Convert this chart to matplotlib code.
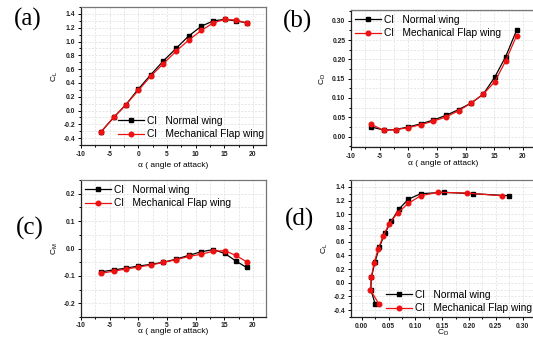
import matplotlib
matplotlib.use("Agg")
import matplotlib.pyplot as plt
from matplotlib.ticker import MultipleLocator, FormatStrFormatter

plt.rcParams['font.family'] = ['Liberation Sans', 'DejaVu Sans']
plt.rcParams['mathtext.fontset'] = 'custom'
plt.rcParams['mathtext.rm'] = 'Liberation Sans'
plt.rcParams['mathtext.it'] = 'Liberation Sans'

# ---- data ----
alpha = [-6.5, -4.3, -2.2, 0.0, 2.2, 4.4, 6.6, 8.8, 11.0, 13.1, 15.1, 17.0, 18.9]

cl_normal = [-0.31, -0.10, 0.08, 0.31, 0.52, 0.72, 0.90, 1.08, 1.22, 1.30, 1.32, 1.30, 1.27]
cl_flap = [-0.31, -0.10, 0.08, 0.29, 0.50, 0.68, 0.86, 1.02, 1.16, 1.27, 1.32, 1.31, 1.27]

cd_normal = [0.025, 0.017, 0.018, 0.025, 0.033, 0.043, 0.055, 0.070, 0.087, 0.110, 0.154, 0.207, 0.275]
cd_flap = [0.032, 0.016, 0.018, 0.023, 0.031, 0.040, 0.051, 0.067, 0.087, 0.110, 0.142, 0.196, 0.261]

cm_normal = [-0.085, -0.078, -0.072, -0.064, -0.058, -0.050, -0.039, -0.025, -0.012, -0.004, -0.018, -0.045, -0.069]
cm_flap = [-0.090, -0.083, -0.075, -0.068, -0.060, -0.051, -0.041, -0.029, -0.021, -0.010, -0.008, -0.025, -0.048]

legend_labels = ["Cl   Normal wing", "Cl   Mechanical Flap wing"]
panel_labels = ["(a)", "(b)", "(c)", "(d)"]
xlabel_alpha = "\u03b1 ( angle of attack)"

W, H = 533, 337
fig = plt.figure(figsize=(W / 100, H / 100), dpi=100)


def make_ax(left, top, right, bottom):
    return fig.add_axes([left / W, 1 - bottom / H, (right - left) / W, (bottom - top) / H])


def style(ax, xmaj, xmin, ymaj, ymin, xfmt, yfmt):
    ax.xaxis.set_major_locator(MultipleLocator(xmaj))
    ax.xaxis.set_minor_locator(MultipleLocator(xmin))
    ax.yaxis.set_major_locator(MultipleLocator(ymaj))
    ax.yaxis.set_minor_locator(MultipleLocator(ymin))
    ax.xaxis.set_major_formatter(FormatStrFormatter(xfmt))
    ax.yaxis.set_major_formatter(FormatStrFormatter(yfmt))
    ax.grid(True, which='both', color='#dddddd', linestyle=(0, (3, 2)), linewidth=0.5)
    ax.set_axisbelow(True)
    ax.tick_params(which='both', direction='out', top=False, right=False, pad=1.5,
                   width=0.7, labelsize=4.9, labelcolor='#222222')
    ax.tick_params(which='major', length=2.5)
    ax.tick_params(which='minor', length=1.5)
    for lab in ax.get_xticklabels() + ax.get_yticklabels():
        lab.set_fontweight('bold')
    for s in ['left', 'bottom']:
        ax.spines[s].set_color('#222222')
        ax.spines[s].set_linewidth(0.9)
    for s in ['top', 'right']:
        ax.spines[s].set_color('#777777')
        ax.spines[s].set_linewidth(0.9)


def plot_pair(ax, x1, y1, x2, y2):
    ax.plot(x1, y1, color='black', marker='s', markersize=3.2, linewidth=0.9, label=legend_labels[0])
    ax.plot(x2, y2, color='#ee1111', marker='o', markersize=3.3, linewidth=0.9, label=legend_labels[1])


def add_legend(ax, x, y):
    ax.legend(loc='upper left', bbox_to_anchor=(x / W, 1 - y / H), bbox_transform=fig.transFigure,
              frameon=False, borderpad=0, borderaxespad=0, fontsize=7.4, handlelength=2.5,
              handletextpad=0.3, labelspacing=0.32)


# (a) CL vs alpha
axa = make_ax(81, 7, 266, 145)
plot_pair(axa, alpha, cl_normal, alpha, cl_flap)
axa.set_xlim(-10, 22.3)
axa.set_ylim(-0.5, 1.5)
style(axa, 5, 2.5, 0.2, 0.1, '%d', '%.1f')
axa.set_xlabel(xlabel_alpha, fontsize=6, labelpad=3)
axa.set_ylabel(r'$\mathrm{C_L}$', fontsize=6, labelpad=3)
add_legend(axa, 118, 116)

# (b) CD vs alpha
axb = make_ax(351, 10, 536, 147)
plot_pair(axb, alpha, cd_normal, alpha, cd_flap)
axb.set_xlim(-10, 22.3)
axb.set_ylim(-0.027, 0.328)
style(axb, 5, 2.5, 0.05, 0.025, '%d', '%.2f')
axb.set_xlabel(xlabel_alpha, fontsize=6, labelpad=0)
axb.set_ylabel(r'$\mathrm{C_D}$', fontsize=6, labelpad=3)
add_legend(axb, 355, 15)

# (c) CM vs alpha
axc = make_ax(81, 180, 266, 317)
plot_pair(axc, alpha, cm_normal, alpha, cm_flap)
axc.set_xlim(-10, 22.3)
axc.set_ylim(-0.25, 0.25)
style(axc, 5, 2.5, 0.1, 0.05, '%d', '%.1f')
axc.tick_params(axis='x', which='both', pad=1)
axc.set_xlabel(xlabel_alpha, fontsize=6, labelpad=-0.3)
axc.set_ylabel(r'$\mathrm{C_M}$', fontsize=6, labelpad=3)
add_legend(axc, 85, 185)

# (d) CL vs CD
axd = make_ax(351, 180, 536, 317)
plot_pair(axd, cd_normal, cl_normal, cd_flap, cl_flap)
axd.set_xlim(-0.02, 0.325)
axd.set_ylim(-0.5, 1.5)
style(axd, 0.05, 0.025, 0.2, 0.1, '%.2f', '%.1f')
axd.set_xlabel(r'$\mathrm{C_D}$', fontsize=6, labelpad=-1)
axd.set_ylabel(r'$\mathrm{C_L}$', fontsize=6, labelpad=3)
add_legend(axd, 386, 290)

# panel labels
for lab, (px, py) in zip(panel_labels, [(28, 19), (297, 21), (30, 228), (300, 219)]):
    fig.text(px / W, 1 - py / H, lab, fontsize=18, family='Liberation Serif',
             ha='center', va='center')

fig.savefig('out.png', dpi=100)
